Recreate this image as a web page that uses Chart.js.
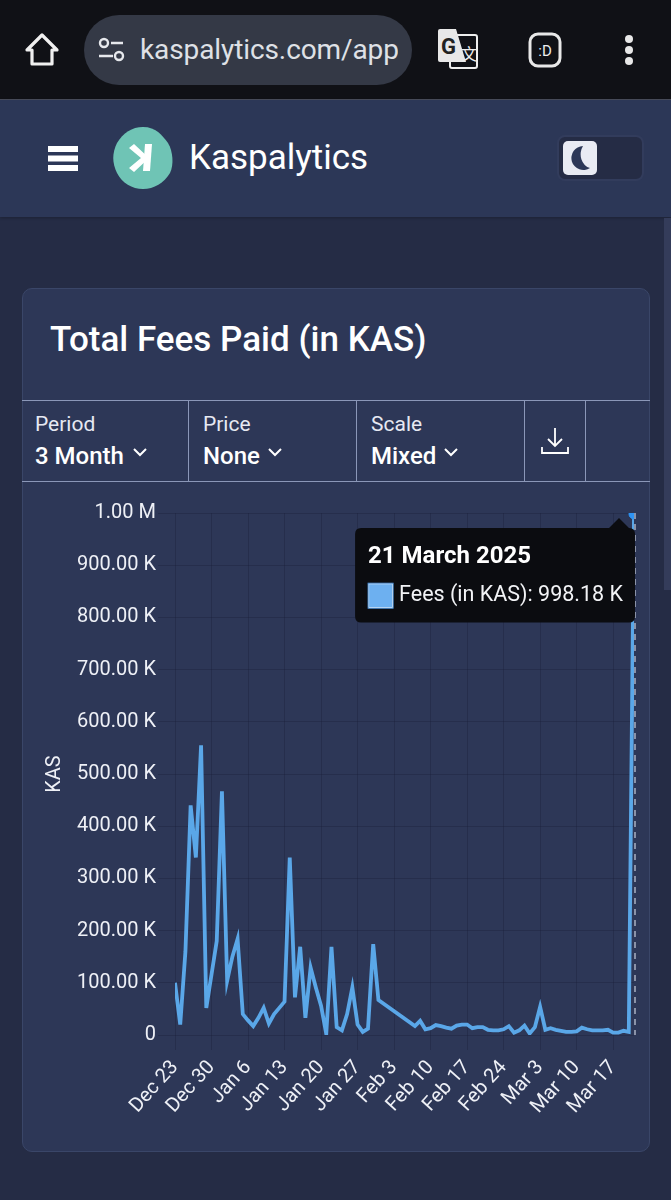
<!DOCTYPE html>
<html>
<head>
<meta charset="utf-8">
<title>Kaspalytics</title>
<script src="https://cdn.jsdelivr.net/npm/chart.js@4"></script>
<style>
    html, body { margin: 0; padding: 0; background: #252c45; }
    body { width: 671px; height: 1200px; position: relative; overflow: hidden; font-family: Roboto, sans-serif; color: #fff; }
    .abs { position: absolute; }
    .topbar { left: 0; top: 0; width: 671px; height: 99px; background: #101116; border-bottom: 1px solid #4a4e5c; }
    .url { left: 84px; top: 15px; width: 328px; height: 70px; border-radius: 35px; background: #343946; }
    .urltext { left: 140px; top: 32px; font-size: 28px; line-height: 36px; color: #dfe1e6; width: 258px; overflow: hidden; white-space: nowrap; letter-spacing: -0.1px; }
    .header { left: 0; top: 100px; width: 671px; height: 117px; background: #2c3757; box-shadow: 0 1px 3px rgba(0,0,0,.25); }
    .brand { left: 189px; top: 137px; font-size: 35px; line-height: 42px; }
    .toggle { left: 557px; top: 135px; width: 87px; height: 46px; border-radius: 8px; background: #252c45; border: 2px solid #323c5c; box-sizing: border-box; }
    .knob { left: 563px; top: 141px; width: 34px; height: 34px; border-radius: 5px; background: #e9ebf3; }
    .scrollthumb { left: 664px; top: 218px; width: 7px; height: 372px; background: #343c5a; }
    .card { left: 22px; top: 288px; width: 628px; height: 864px; background: #2d3757; border: 1px solid #3a4668; border-radius: 10px; box-sizing: border-box; }
    .title { left: 50px; top: 318px; font-size: 35px; line-height: 44px; font-weight: 500; }
    .hline { left: 22px; width: 628px; height: 1px; background: #8b97b8; }
    .vline { top: 400px; width: 1px; height: 82px; background: #8b97b8; }
    .lab { top: 410px; font-size: 21px; line-height: 28px; color: #e6e9f2; }
    .val { top: 441px; font-size: 24px; line-height: 30px; font-weight: 500; }
    canvas { position: absolute; left: 22px; top: 482px; }
</style>
</head>
<body>
    <div class="abs topbar"></div>
    <svg class="abs" style="left:24px;top:32px" width="36" height="36" viewBox="0 0 36 36" fill="none" stroke="#f0f0f0" stroke-width="3.2" stroke-linejoin="round"><path d="M18 3 L33 18 H28 V32 H8 V18 H3 Z"/></svg>
    <div class="abs url"></div>
    <svg class="abs" style="left:98px;top:37px" width="28" height="26" viewBox="0 0 28 26" fill="none" stroke="#e6e8ec" stroke-width="2.4"><circle cx="6" cy="6" r="4"/><path d="M13 6 H25 M1 19 H15"/><circle cx="21" cy="19" r="4"/></svg>
    <div class="abs urltext">kaspalytics.com/app</div>
    <svg class="abs" style="left:436px;top:29px" width="44" height="42" viewBox="0 0 44 42"><rect x="14" y="6" width="27" height="33" rx="2" fill="#101116" stroke="#eee" stroke-width="2"/><path d="M2 2 Q2 0 4 0 H20 L30 33 H4 Q2 33 2 31 Z" fill="#e8e8e8"/><text x="5" y="25" font-family="Roboto" font-weight="700" font-size="22" fill="#222">G</text><text x="25" y="31" font-family="Noto Sans CJK SC" font-size="16" fill="#eee">文</text></svg>
    <svg class="abs" style="left:528px;top:32px" width="34" height="36" viewBox="0 0 34 36"><rect x="2" y="2" width="30" height="32" rx="8" fill="none" stroke="#e8e8e8" stroke-width="3"/><text x="17" y="24" text-anchor="middle" font-family="Roboto" font-size="15" fill="#eee">:D</text></svg>
    <svg class="abs" style="left:620px;top:34px" width="18" height="32" viewBox="0 0 18 32" fill="#e8e8e8"><circle cx="9" cy="5" r="4"/><circle cx="9" cy="16" r="4"/><circle cx="9" cy="27" r="4"/></svg>

    <div class="abs header"></div>
    <svg class="abs" style="left:48px;top:146px" width="30" height="25" viewBox="0 0 30 25" fill="#fff"><rect width="30" height="6"/><rect y="9.5" width="30" height="6"/><rect y="19" width="30" height="6"/></svg>
    <svg class="abs" style="left:112px;top:127px" width="62" height="62" viewBox="0 0 62 62"><path d="M31 0 C44 0 50 8 56 16 C61 24 62 38 58 46 C52 56 42 62 31 62 C20 62 10 56 5 46 C0 36 0 26 5 16 C11 6 20 0 31 0 Z" fill="#6fc4b5"/><path d="M33 17 H40 L38 44 H31 Z" fill="#fff"/><path d="M17 21 L29 31 L17 41 L22 45 L37 31 L22 17 Z" fill="#fff"/></svg>
    <div class="abs brand">Kaspalytics</div>
    <div class="abs toggle"></div>
    <div class="abs knob"></div>
    <svg class="abs" style="left:568px;top:145px" width="24" height="26" viewBox="0 0 24 26"><path d="M15 1 A12 12 0 1 0 22 23 A12 14 0 0 1 15 1 Z" fill="#2c3757"/></svg>
    <div class="abs scrollthumb"></div>

    <div class="abs card"></div>
    <div class="abs title">Total Fees Paid (in KAS)</div>
    <div class="abs hline" style="top:400px"></div>
    <div class="abs hline" style="top:481px"></div>
    <div class="abs vline" style="left:188px"></div>
    <div class="abs vline" style="left:356px"></div>
    <div class="abs vline" style="left:524px"></div>
    <div class="abs vline" style="left:585px"></div>
    <div class="abs lab" style="left:35px">Period</div>
    <div class="abs val" style="left:35px">3 Month</div>
    <div class="abs lab" style="left:203px">Price</div>
    <div class="abs val" style="left:203px">None</div>
    <div class="abs lab" style="left:371px">Scale</div>
    <div class="abs val" style="left:371px">Mixed</div>
    <svg class="abs" style="left:132px;top:447px" width="16" height="12" viewBox="0 0 16 12" fill="none" stroke="#fff" stroke-width="2"><path d="M2 2 L8 8 L14 2"/></svg>
    <svg class="abs" style="left:267px;top:447px" width="16" height="12" viewBox="0 0 16 12" fill="none" stroke="#fff" stroke-width="2"><path d="M2 2 L8 8 L14 2"/></svg>
    <svg class="abs" style="left:443px;top:447px" width="16" height="12" viewBox="0 0 16 12" fill="none" stroke="#fff" stroke-width="2"><path d="M2 2 L8 8 L14 2"/></svg>
    <svg class="abs" style="left:540px;top:426px" width="30" height="30" viewBox="0 0 30 30" fill="none" stroke="#fff" stroke-width="1.8"><path d="M15 2 V20 M8 13 L15 20 L22 13 M2 21 V27 H28 V21"/></svg>

    <canvas id="myChartCanvasGeral" width="628" height="668"></canvas>

<script>
    // one value per day from Dec 23, null where the day has no data
    const fees = [
        100000, 20000, 160000, 440000, 340000, 555000, 52000, 116000, 180000, 467000,
        104000, 150000, 184000, 40000, 28000, 17000, 33000, 52000, 22000, 40000,
        52000, 64000, 340000, 72000, 169000, 33000, 129000, 91000, 56000, 2000,
        169000, 15000, 9000, 40000, 91000, 20000, 6000, 12000, 174000, 67000,
        null, null, null, null, null, null, 17000, 27000, 11000, 13000,
        19000, 17000, 14000, 12000, 18000, 20000, 20000, 13000, 15000, 15000,
        10000, 9000, 9000, 11000, 17000, 4500, 9000, 18000, 3000, 15000,
        54000, 10000, 13000, 10000, 8000, 6000, 6000, 7000, 14000, 11000,
        9000, 9000, 9000, 10000, 4500, 4500, 8000, 6000, 998180
    ];
    const weekLabels = ["Dec 23", "Dec 30", "Jan 6", "Jan 13", "Jan 20", "Jan 27", "Feb 3", "Feb 10", "Feb 17", "Feb 24", "Mar 3", "Mar 10", "Mar 17"];
    const yTicks = [0, 100000, 200000, 300000, 400000, 500000, 600000, 700000, 800000, 900000, 1000000];
    const seriesName = "Fees (in KAS)";
    const activeDate = "21 March 2025";

    function formatKas(v) {
        if (v >= 1000000) return (v / 1000000).toFixed(2) + " M";
        if (v > 0) return (v / 1000).toFixed(2) + " K";
        return "0";
    }

    var pontos = [];
    for (var i = 0; i < fees.length; i++) {
        pontos.push({ x: i, y: fees[i] });
    }

    Chart.defaults.font.family = "Roboto";
    Chart.defaults.color = "#eef0f6";

    Chart.Tooltip.positioners.topoFixo = function (items) {
        if (!items.length) return false;
        return { x: items[0].element.x - 15, y: this.chart.chartArea.top + 5 };
    };

    // dashed line under the active point
    const linhaAtiva = {
        id: "linhaAtiva",
        afterDatasetsDraw(chart) {
            const ativos = chart.getActiveElements();
            if (!ativos.length) return;
            const x = ativos[0].element.x + 1;
            const ctx = chart.ctx;
            ctx.save();
            ctx.setLineDash([6, 5]);
            ctx.lineWidth = 1.5;
            ctx.strokeStyle = "#a9b1c4";
            ctx.beginPath();
            ctx.moveTo(x, chart.chartArea.top);
            ctx.lineTo(x, chart.chartArea.bottom);
            ctx.stroke();
            ctx.restore();
        }
    };

    const config = {
        type: "line",
        data: {
            datasets: [{
                label: seriesName,
                data: pontos,
                borderColor: "#5aa7e8",
                backgroundColor: "#6db0f0",
                borderWidth: 3.8,
                tension: 0,
                spanGaps: true,
                pointRadius: 0,
                pointHoverRadius: 5,
                pointHoverBackgroundColor: "#2f93f2",
                pointHoverBorderColor: "#2f93f2"
            }]
        },
        options: {
            responsive: false,
            animation: false,
            layout: { padding: { top: 31, right: 16 } },
            plugins: {
                legend: { display: false },
                tooltip: {
                    position: "topoFixo",
                    xAlign: "right",
                    yAlign: "top",
                    backgroundColor: "#0b0c10",
                    titleColor: "#fff",
                    bodyColor: "#f2f3f6",
                    titleFont: { family: "Roboto", size: 24, weight: "bold" },
                    bodyFont: { family: "Roboto", size: 21.5 },
                    padding: { top: 15, bottom: 14, left: 13, right: 12 },
                    titleMarginBottom: 11,
                    cornerRadius: 6,
                    caretSize: 10,
                    caretPadding: 0,
                    boxWidth: 25,
                    boxHeight: 25,
                    boxPadding: 4,
                    callbacks: {
                        title: () => activeDate,
                        label: (item) => `${item.dataset.label}: ${formatKas(item.parsed.y)}`,
                        labelColor: () => ({ borderColor: "#4a8fd8", backgroundColor: "#6db0f0", borderWidth: 1 })
                    }
                }
            },
            scales: {
                x: {
                    type: "linear",
                    min: 0,
                    max: fees.length - 1,
                    afterFit(scale) { scale.height = 115; },
                    border: { display: false },
                    grid: { color: "rgba(20, 26, 50, 0.28)", lineWidth: 1, tickLength: 15, drawOnChartArea: true },
                    ticks: {
                        stepSize: 7,
                        includeBounds: false,
                        minRotation: 48,
                        maxRotation: 48,
                        padding: 6,
                        font: { size: 20 },
                        callback: (v) => weekLabels[v / 7]
                    }
                },
                y: {
                    min: 0,
                    max: 1000000,
                    afterFit(scale) { scale.width = 153; },
                    afterBuildTicks(scale) { scale.ticks = yTicks.map(v => ({ value: v })); },
                    border: { display: false },
                    title: { display: true, text: "KAS", font: { size: 20 }, padding: { top: 21, bottom: 0 } },
                    grid: { color: "rgba(20, 26, 50, 0.28)", lineWidth: 1, tickLength: 17 },
                    ticks: {
                        padding: 2,
                        font: { size: 20 },
                        callback: (v) => formatKas(v)
                    }
                }
            }
        },
        plugins: [linhaAtiva]
    };

    let myChart = new Chart(document.getElementById("myChartCanvasGeral"), config);

    const ultimo = [{ datasetIndex: 0, index: fees.length - 1 }];
    myChart.setActiveElements(ultimo);
    myChart.tooltip.setActiveElements(ultimo, { x: 0, y: 0 });
    myChart.update();
</script>
</body>
</html>
